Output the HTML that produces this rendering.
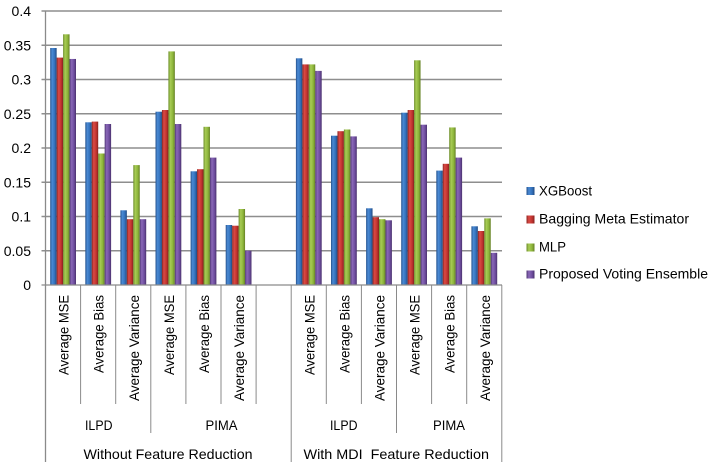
<!DOCTYPE html>
<html><head><meta charset="utf-8"><style>
html,body{margin:0;padding:0;background:#fff;}
svg{display:block;}
text{font-family:"Liberation Sans",Arial,sans-serif;fill:#000;}
</style></head><body>
<svg width="713" height="467" viewBox="0 0 713 467" xmlns="http://www.w3.org/2000/svg">
<defs>
<linearGradient id="gb" x1="0" y1="0" x2="1" y2="0">
<stop offset="0" stop-color="#24518c"/><stop offset="0.3" stop-color="#4a8ad4"/><stop offset="0.7" stop-color="#3370ba"/><stop offset="1" stop-color="#21497f"/></linearGradient>
<linearGradient id="gr" x1="0" y1="0" x2="1" y2="0">
<stop offset="0" stop-color="#8c2421"/><stop offset="0.3" stop-color="#da4a45"/><stop offset="0.7" stop-color="#c0332f"/><stop offset="1" stop-color="#85211e"/></linearGradient>
<linearGradient id="gg" x1="0" y1="0" x2="1" y2="0">
<stop offset="0" stop-color="#6a8a28"/><stop offset="0.3" stop-color="#a8cc55"/><stop offset="0.7" stop-color="#8cb43a"/><stop offset="1" stop-color="#647f25"/></linearGradient>
<linearGradient id="gp" x1="0" y1="0" x2="1" y2="0">
<stop offset="0" stop-color="#4f3674"/><stop offset="0.3" stop-color="#8a68b8"/><stop offset="0.7" stop-color="#6e4d9e"/><stop offset="1" stop-color="#4a326d"/></linearGradient>
</defs>

<!-- gridlines -->
<g stroke="#8e8e8e" stroke-width="1.4">
<line x1="41.5" y1="11" x2="502" y2="11"/>
<line x1="41.5" y1="45.25" x2="502" y2="45.25"/>
<line x1="41.5" y1="79.5" x2="502" y2="79.5"/>
<line x1="41.5" y1="113.75" x2="502" y2="113.75"/>
<line x1="41.5" y1="148" x2="502" y2="148"/>
<line x1="41.5" y1="182.25" x2="502" y2="182.25"/>
<line x1="41.5" y1="216.5" x2="502" y2="216.5"/>
<line x1="41.5" y1="250.75" x2="502" y2="250.75"/>
</g>

<!-- y tick labels -->
<g font-size="14" text-anchor="end">
<text x="31" y="16">0.4</text>
<text x="31" y="50.25">0.35</text>
<text x="31" y="84.5">0.3</text>
<text x="31" y="118.75">0.25</text>
<text x="31" y="153">0.2</text>
<text x="31" y="187.25">0.15</text>
<text x="31" y="221.5">0.1</text>
<text x="31" y="255.75">0.05</text>
<text x="31" y="290">0</text>
</g>

<!-- bars -->
<g transform="translate(45.5,0)">
<rect x="4.7" y="48.0" width="6.45" height="237.0" fill="url(#gb)"/>
<rect x="11.15" y="57.6" width="6.45" height="227.4" fill="url(#gr)"/>
<rect x="17.6" y="34.3" width="6.45" height="250.7" fill="url(#gg)"/>
<rect x="24.05" y="58.95" width="6.45" height="226.05" fill="url(#gp)"/>
</g>
<g transform="translate(80.6,0)">
<rect x="4.7" y="122.3" width="6.45" height="162.7" fill="url(#gb)"/>
<rect x="11.15" y="121.6" width="6.45" height="163.4" fill="url(#gr)"/>
<rect x="17.6" y="153.5" width="6.45" height="131.5" fill="url(#gg)"/>
<rect x="24.05" y="124.0" width="6.45" height="161.0" fill="url(#gp)"/>
</g>
<g transform="translate(115.7,0)">
<rect x="4.7" y="210.3" width="6.45" height="74.7" fill="url(#gb)"/>
<rect x="11.15" y="219.2" width="6.45" height="65.8" fill="url(#gr)"/>
<rect x="17.6" y="165.1" width="6.45" height="119.9" fill="url(#gg)"/>
<rect x="24.05" y="219.2" width="6.45" height="65.8" fill="url(#gp)"/>
</g>
<g transform="translate(150.8,0)">
<rect x="4.7" y="111.7" width="6.45" height="173.3" fill="url(#gb)"/>
<rect x="11.15" y="110.0" width="6.45" height="175.0" fill="url(#gr)"/>
<rect x="17.6" y="51.4" width="6.45" height="233.6" fill="url(#gg)"/>
<rect x="24.05" y="124.0" width="6.45" height="161.0" fill="url(#gp)"/>
</g>
<g transform="translate(185.9,0)">
<rect x="4.7" y="171.3" width="6.45" height="113.7" fill="url(#gb)"/>
<rect x="11.15" y="169.2" width="6.45" height="115.8" fill="url(#gr)"/>
<rect x="17.6" y="126.8" width="6.45" height="158.2" fill="url(#gg)"/>
<rect x="24.05" y="157.6" width="6.45" height="127.4" fill="url(#gp)"/>
</g>
<g transform="translate(221.0,0)">
<rect x="4.7" y="225.0" width="6.45" height="60.0" fill="url(#gb)"/>
<rect x="11.15" y="225.7" width="6.45" height="59.3" fill="url(#gr)"/>
<rect x="17.6" y="209.0" width="6.45" height="76.0" fill="url(#gg)"/>
<rect x="24.05" y="250.75" width="6.45" height="34.25" fill="url(#gp)"/>
</g>
<g transform="translate(291.2,0)">
<rect x="4.7" y="58.3" width="6.45" height="226.7" fill="url(#gb)"/>
<rect x="11.15" y="64.4" width="6.45" height="220.6" fill="url(#gr)"/>
<rect x="17.6" y="64.4" width="6.45" height="220.6" fill="url(#gg)"/>
<rect x="24.05" y="70.9" width="6.45" height="214.1" fill="url(#gp)"/>
</g>
<g transform="translate(326.3,0)">
<rect x="4.7" y="135.7" width="6.45" height="149.3" fill="url(#gb)"/>
<rect x="11.15" y="131.2" width="6.45" height="153.8" fill="url(#gr)"/>
<rect x="17.6" y="129.5" width="6.45" height="155.5" fill="url(#gg)"/>
<rect x="24.05" y="136.4" width="6.45" height="148.6" fill="url(#gp)"/>
</g>
<g transform="translate(361.4,0)">
<rect x="4.7" y="208.3" width="6.45" height="76.7" fill="url(#gb)"/>
<rect x="11.15" y="217.2" width="6.45" height="67.8" fill="url(#gr)"/>
<rect x="17.6" y="219.2" width="6.45" height="65.8" fill="url(#gg)"/>
<rect x="24.05" y="220.3" width="6.45" height="64.7" fill="url(#gp)"/>
</g>
<g transform="translate(396.5,0)">
<rect x="4.7" y="112.7" width="6.45" height="172.3" fill="url(#gb)"/>
<rect x="11.15" y="110.0" width="6.45" height="175.0" fill="url(#gr)"/>
<rect x="17.6" y="60.3" width="6.45" height="224.7" fill="url(#gg)"/>
<rect x="24.05" y="124.7" width="6.45" height="160.3" fill="url(#gp)"/>
</g>
<g transform="translate(431.6,0)">
<rect x="4.7" y="170.6" width="6.45" height="114.4" fill="url(#gb)"/>
<rect x="11.15" y="163.8" width="6.45" height="121.2" fill="url(#gr)"/>
<rect x="17.6" y="127.45" width="6.45" height="157.55" fill="url(#gg)"/>
<rect x="24.05" y="157.6" width="6.45" height="127.4" fill="url(#gp)"/>
</g>
<g transform="translate(466.7,0)">
<rect x="4.7" y="226.3" width="6.45" height="58.7" fill="url(#gb)"/>
<rect x="11.15" y="231.0" width="6.45" height="54.0" fill="url(#gr)"/>
<rect x="17.6" y="218.35" width="6.45" height="66.65" fill="url(#gg)"/>
<rect x="24.05" y="252.8" width="6.45" height="32.2" fill="url(#gp)"/>
</g>

<!-- axes -->
<g stroke="#8a8a8a" stroke-width="1.3">
<line x1="41.5" y1="285" x2="502" y2="285"/>
<line x1="45.5" y1="11" x2="45.5" y2="462"/>
</g>
<!-- category separators -->
<g stroke="#8a8a8a" stroke-width="1">
<line x1="80.6" y1="285" x2="80.6" y2="404"/>
<line x1="115.7" y1="285" x2="115.7" y2="404"/>
<line x1="150.8" y1="285" x2="150.8" y2="433"/>
<line x1="185.9" y1="285" x2="185.9" y2="404"/>
<line x1="221.0" y1="285" x2="221.0" y2="404"/>
<line x1="256.1" y1="285" x2="256.1" y2="404"/>
<line x1="291.2" y1="285" x2="291.2" y2="462"/>
<line x1="326.3" y1="285" x2="326.3" y2="404"/>
<line x1="361.4" y1="285" x2="361.4" y2="404"/>
<line x1="396.5" y1="285" x2="396.5" y2="433"/>
<line x1="431.6" y1="285" x2="431.6" y2="404"/>
<line x1="466.7" y1="285" x2="466.7" y2="404"/>
<line x1="501.8" y1="285" x2="501.8" y2="462"/>
</g>

<!-- rotated category labels -->
<g font-size="13.5" text-anchor="end">
<text transform="translate(68.6,295) rotate(-90)" textLength="80" lengthAdjust="spacingAndGlyphs">Average MSE</text>
<text transform="translate(103.7,295) rotate(-90)" textLength="78" lengthAdjust="spacingAndGlyphs">Average Bias</text>
<text transform="translate(138.8,295) rotate(-90)" textLength="106" lengthAdjust="spacingAndGlyphs">Average Variance</text>
<text transform="translate(173.9,295) rotate(-90)" textLength="80" lengthAdjust="spacingAndGlyphs">Average MSE</text>
<text transform="translate(209.0,295) rotate(-90)" textLength="78" lengthAdjust="spacingAndGlyphs">Average Bias</text>
<text transform="translate(244.1,295) rotate(-90)" textLength="106" lengthAdjust="spacingAndGlyphs">Average Variance</text>
<text transform="translate(314.3,295) rotate(-90)" textLength="80" lengthAdjust="spacingAndGlyphs">Average MSE</text>
<text transform="translate(349.4,295) rotate(-90)" textLength="78" lengthAdjust="spacingAndGlyphs">Average Bias</text>
<text transform="translate(384.5,295) rotate(-90)" textLength="106" lengthAdjust="spacingAndGlyphs">Average Variance</text>
<text transform="translate(419.6,295) rotate(-90)" textLength="80" lengthAdjust="spacingAndGlyphs">Average MSE</text>
<text transform="translate(454.7,295) rotate(-90)" textLength="78" lengthAdjust="spacingAndGlyphs">Average Bias</text>
<text transform="translate(489.8,295) rotate(-90)" textLength="106" lengthAdjust="spacingAndGlyphs">Average Variance</text>
</g>

<!-- group labels -->
<g font-size="14">
<text x="85" y="430" textLength="27.5" lengthAdjust="spacingAndGlyphs">ILPD</text>
<text x="205.5" y="430" textLength="32" lengthAdjust="spacingAndGlyphs">PIMA</text>
<text x="330" y="430" textLength="27.5" lengthAdjust="spacingAndGlyphs">ILPD</text>
<text x="433" y="430" textLength="32" lengthAdjust="spacingAndGlyphs">PIMA</text>
<text x="83.5" y="459" textLength="169" lengthAdjust="spacingAndGlyphs">Without Feature Reduction</text>
<text x="303.5" y="459" textLength="185.5" lengthAdjust="spacingAndGlyphs" xml:space="preserve">With MDI  Feature Reduction</text>
</g>

<!-- legend -->
<rect x="526.5" y="187" width="8" height="8" fill="url(#gb)"/>
<rect x="526.5" y="215.5" width="8" height="8" fill="url(#gr)"/>
<rect x="526.5" y="243.5" width="8" height="8" fill="url(#gg)"/>
<rect x="526.5" y="270.5" width="8" height="8" fill="url(#gp)"/>
<g font-size="14">
<text x="539" y="195.5" textLength="53" lengthAdjust="spacingAndGlyphs">XGBoost</text>
<text x="539" y="223.5" textLength="150" lengthAdjust="spacingAndGlyphs">Bagging Meta Estimator</text>
<text x="539" y="251.5" textLength="27" lengthAdjust="spacingAndGlyphs">MLP</text>
<text x="539" y="278.5" textLength="169" lengthAdjust="spacingAndGlyphs">Proposed Voting Ensemble</text>
</g>
</svg>
</body></html>
